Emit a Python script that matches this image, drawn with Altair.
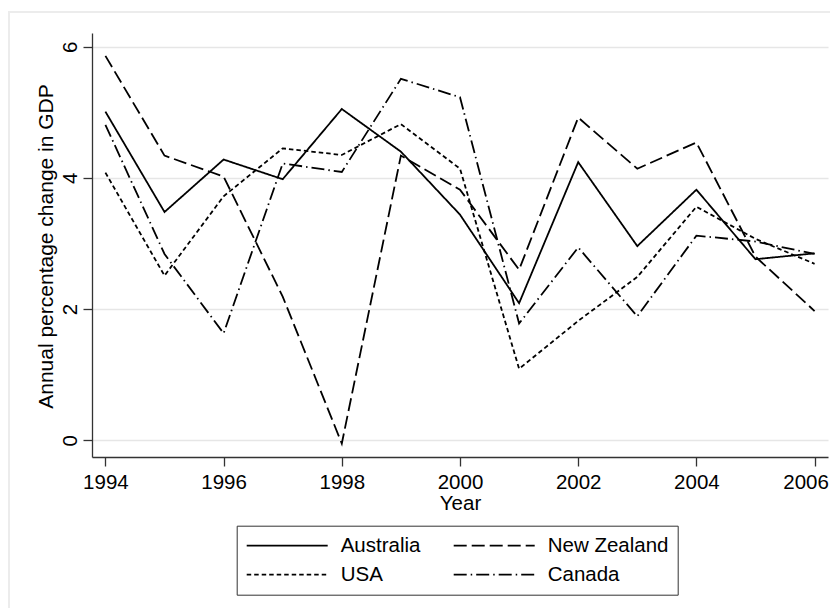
import altair as alt
import pandas as pd

years = list(range(1994, 2007))
australia = [5.01, 3.48, 4.28, 3.98, 5.05, 4.40, 3.44, 2.09, 4.24, 2.96, 3.82, 2.76, 2.85]
new_zealand = [5.86, 4.34, 4.02, 2.19, -0.05, 4.34, 3.82, 2.60, 4.92, 4.14, 4.54, 2.80, 1.97]
usa = [4.08, 2.51, 3.72, 4.45, 4.35, 4.82, 4.14, 1.09, 1.82, 2.49, 3.56, 3.07, 2.69]
canada = [4.81, 2.84, 1.63, 4.22, 4.09, 5.51, 5.23, 1.78, 2.94, 1.89, 3.12, 3.03, 2.84]

countries = ["Australia", "New Zealand", "USA", "Canada"]
series = [australia, new_zealand, usa, canada]
dashes = [[1, 0], [13, 5], [4.5, 3], [13, 4, 1.5, 4]]

rows = []
for name, vals in zip(countries, series):
    for yr, v in zip(years, vals):
        rows.append({"Year": yr, "Country": name, "GDP": v})
df = pd.DataFrame(rows)

FONT = "Liberation Sans"

lines = alt.Chart(df).mark_line(color="black", strokeWidth=1.8).encode(
    x=alt.X("Year:Q",
            scale=alt.Scale(domain=[1993.773, 2006.227], nice=False, zero=False),
            axis=alt.Axis(values=[1994, 1996, 1998, 2000, 2002, 2004, 2006], format="d",
                          grid=False, title="Year", tickSize=9, labelPadding=6,
                          labelOffset={"condition": {"test": "datum.value == 2006", "value": -9},
                                       "value": 0},
                          titleY=52.6, titleBaseline="alphabetic")),
    y=alt.Y("GDP:Q",
            scale=alt.Scale(domain=[-0.255, 6.209], nice=False, zero=False),
            axis=alt.Axis(values=[0, 2, 4, 6], grid=True, title="Annual percentage change in GDP",
                          tickSize=9, labelAngle=270, labelAlign="center", labelBaseline="bottom",
                          labelPadding=3, titleX=-40, titleY=213, titleAngle=270,
                          titleFontSize=21,
                          titleBaseline="alphabetic", titleAlign="center")),
    strokeDash=alt.StrokeDash("Country:N",
                              scale=alt.Scale(domain=countries, range=dashes),
                              legend=alt.Legend(title=None, orient="none", legendX=144.7, legendY=492.7,
                                                direction="horizontal", columns=2,
                                                symbolType="stroke", symbolSize=6561,
                                                clipHeight=22,
                                                symbolStrokeWidth=1.8, symbolStrokeColor="black",
                                                labelOffset=12, columnPadding=32, rowPadding=7,
                                                padding=9, strokeColor="#333333",
                                                labelFontSize=20.5, labelFont=FONT,
                                                labelColor="black")),
    detail="Country:N",
    order="Year:Q",
)

frame = alt.Chart(pd.DataFrame({"a": [0]})).mark_rect(
    filled=False, stroke="#ececec", strokeWidth=2
).encode(x=alt.value(-83), y=alt.value(-21), x2=alt.value(900), y2=alt.value(700))

chart = alt.layer(frame, lines).properties(
    width=736, height=424,
    padding={"left": 84, "top": 25, "right": 2, "bottom": 151},
    autosize=alt.AutoSizeParams(type="none"),
    background="white",
).configure_view(stroke=None).configure_axis(
    labelFont=FONT, titleFont=FONT, labelFontSize=20.5, titleFontSize=20.5,
    labelColor="black", titleColor="black", titleFontWeight="normal",
    domainColor="#333333", tickColor="#333333", domainWidth=1.3, tickWidth=1.3,
    gridColor="#e6e6e6", gridWidth=1.6,
)

chart.save("out.html", embed_options={"renderer": "svg", "actions": False})
